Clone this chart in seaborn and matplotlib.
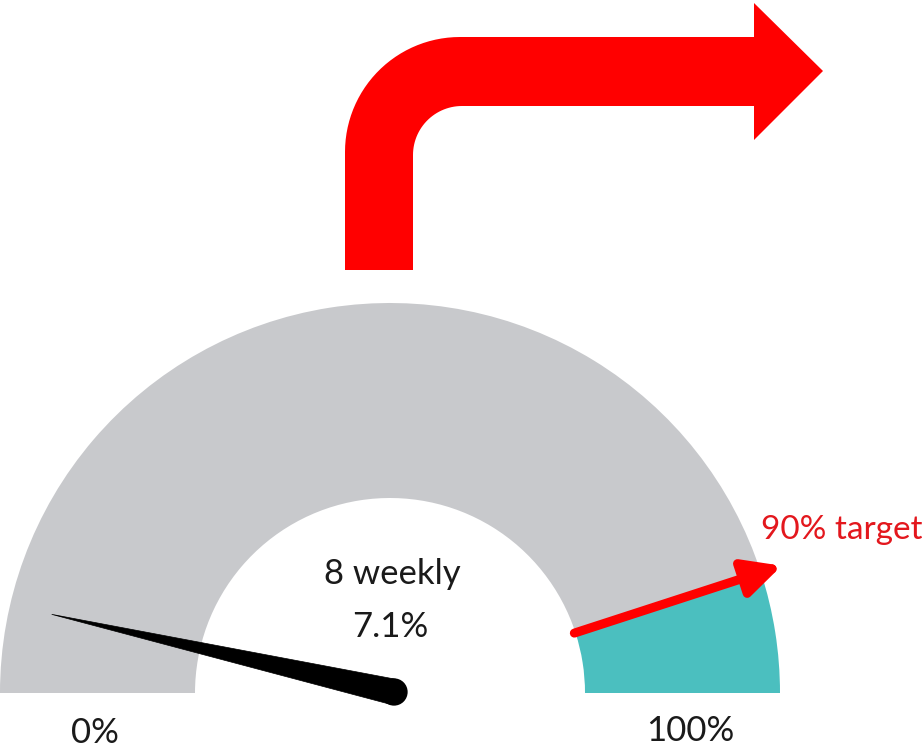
import numpy as np
import matplotlib
matplotlib.use("Agg")
import matplotlib.pyplot as plt
from matplotlib.patches import Polygon, Circle
import seaborn as sns

# ---- data ----
segment_labels = ["below target", "target zone"]
segment_values = [90, 10]          # percent of gauge
segment_colors = ["#C8C9CC", "#4BBFBF"]
needle_value = 7.1                 # percent
target_value = 90                  # percent
center_title = "8 weekly"
center_value = "7.1%"
scale_labels = ["0%", "100%"]
target_label = "90% target"

sns.set_theme(style="white")
plt.rcParams['font.family'] = ['Lato', 'DejaVu Sans']

W, H = 922, 749
fig = plt.figure(figsize=(W / 100, H / 100), dpi=100)
ax = fig.add_axes([0, 0, 1, 1])

# gauge geometry (pixel reference): centre (390, 693), outer radius 390
CX, CY, R = 390.0, 693.0, 390.0
FS = 25


def P(px, py):
    return ((px - CX) / R, (CY - py) / R)


def ang(v):
    return np.deg2rad(180.0 * (1 - v / 100.0))


# gauge ring via pie (clockwise from the left)
vals = list(segment_values) + [sum(segment_values)]
cols = list(segment_colors) + ["none"]
wedges, _ = ax.pie(vals, colors=cols, startangle=180, counterclock=False,
                   radius=1.0, wedgeprops=dict(width=0.5, linewidth=0),
                   center=(0, 0))
wedges[-1].set_visible(False)

# target arrow
ta = ang(target_value)
r0, r1 = 0.497, 1.056
ax.annotate("", xy=(r1 * np.cos(ta), r1 * np.sin(ta)),
            xytext=(r0 * np.cos(ta), r0 * np.sin(ta)),
            arrowprops=dict(arrowstyle="-|>,head_length=0.9,head_width=0.45",
                            color="#FF0000", lw=6.5, mutation_scale=25,
                            shrinkA=0, shrinkB=0), zorder=5)
ax.text(*P(761, 530), target_label, color="#E3171D", fontsize=24,
        ha="left", va="center")

# needle
na = ang(needle_value)
L = 0.90
hw = 0.033
d = np.array([np.cos(na), np.sin(na)])
n = np.array([-d[1], d[0]])
c0 = np.array(P(394, 692))
tip = c0 + L * d
needle = Polygon([c0 + hw * n, tip, c0 - hw * n], closed=True,
                 facecolor="black", edgecolor="black", lw=0.5, zorder=6)
ax.add_patch(needle)
ax.add_patch(Circle(tuple(c0), 0.035, facecolor="black", edgecolor="none", zorder=7))

# centre texts
ax.text(*P(392, 574), center_title, fontsize=FS, ha="center", va="center", color="#1a1a1a")
ax.text(*P(390, 627), center_value, fontsize=FS, ha="center", va="center", color="#1a1a1a")
ax.text(*P(95, 733), scale_labels[0], fontsize=FS, ha="center", va="center", color="#1a1a1a")
ax.text(*P(690, 731), scale_labels[1], fontsize=FS, ha="center", va="center", color="#1a1a1a")

# bent red arrow (decoration)
pts = [(345, 270), (345, 152)]
t = np.linspace(np.pi, np.pi / 2, 30)
pts += [(460 + 115 * np.cos(a), 152 - 115 * np.sin(a)) for a in t]
pts += [(754, 37), (754, 3), (823, 71), (754, 140), (754, 106), (462, 106)]
t2 = np.linspace(np.pi / 2, np.pi, 30)
pts += [(462 + 49 * np.cos(a), 155 - 49 * np.sin(a)) for a in t2]
pts += [(413, 270)]
ax.add_patch(Polygon([P(*p) for p in pts], closed=True, facecolor="#FF0000",
                     edgecolor="none", zorder=3))

ax.set_xlim(P(0, 0)[0], P(W, 0)[0])
ax.set_ylim(P(0, H)[1], P(0, 0)[1])
ax.set_aspect("auto")
ax.axis("off")

fig.savefig("out.png", dpi=100)
